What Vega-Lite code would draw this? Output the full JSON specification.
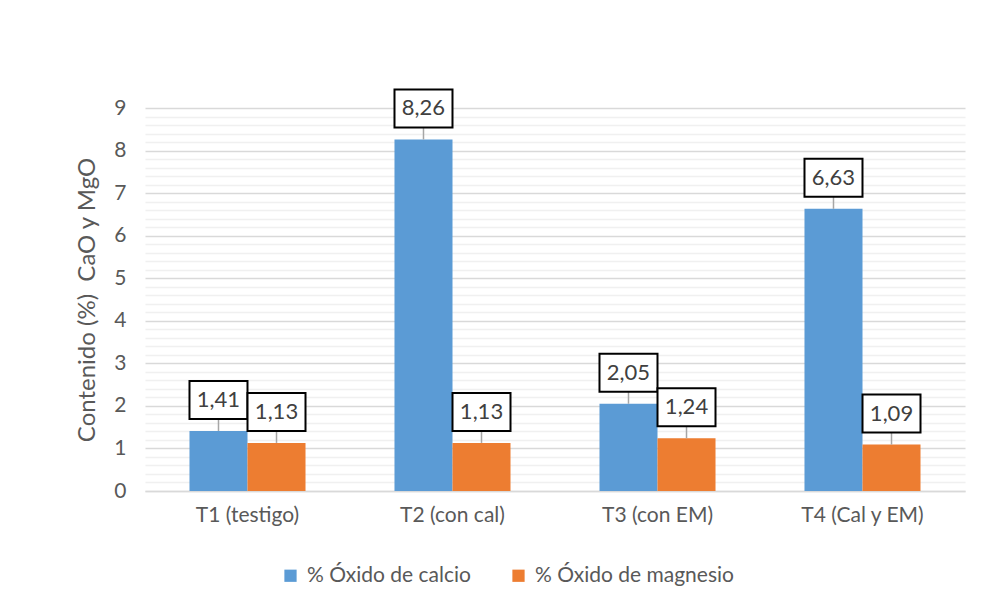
{
  "$schema": "https://vega.github.io/schema/vega-lite/v6.json",
  "width": 820,
  "height": 383,
  "autosize": "none",
  "padding": {"left": 145, "top": 108, "right": 16, "bottom": 116},
  "background": "white",
  "data": {
    "values": [
      {"tratamiento": "T1 (testigo)", "serie": "% Óxido de calcio", "valor": 1.41, "etiqueta": "1,41"},
      {"tratamiento": "T1 (testigo)", "serie": "% Óxido de magnesio", "valor": 1.13, "etiqueta": "1,13"},
      {"tratamiento": "T2 (con cal)", "serie": "% Óxido de calcio", "valor": 8.26, "etiqueta": "8,26"},
      {"tratamiento": "T2 (con cal)", "serie": "% Óxido de magnesio", "valor": 1.13, "etiqueta": "1,13"},
      {"tratamiento": "T3 (con EM)", "serie": "% Óxido de calcio", "valor": 2.05, "etiqueta": "2,05"},
      {"tratamiento": "T3 (con EM)", "serie": "% Óxido de magnesio", "valor": 1.24, "etiqueta": "1,24"},
      {"tratamiento": "T4 (Cal y EM)", "serie": "% Óxido de calcio", "valor": 6.63, "etiqueta": "6,63"},
      {"tratamiento": "T4 (Cal y EM)", "serie": "% Óxido de magnesio", "valor": 1.09, "etiqueta": "1,09"}
    ]
  },
  "encoding": {
    "x": {
      "field": "tratamiento",
      "type": "nominal",
      "sort": null,
      "scale": {"paddingInner": 0.434, "paddingOuter": 0.217},
      "axis": {
        "title": null,
        "labelAngle": 0,
        "ticks": false,
        "domain": true,
        "domainColor": "#d9d9d9",
        "domainWidth": 1.5,
        "labelFont": "Lato",
        "labelFontSize": 21,
        "labelColor": "#595959",
        "labelPadding": 13
      }
    },
    "xOffset": {
      "field": "serie",
      "type": "nominal",
      "sort": null,
      "scale": {"paddingInner": 0, "paddingOuter": 0}
    },
    "y": {
      "field": "valor",
      "type": "quantitative",
      "scale": {"domain": [0, 9], "nice": false, "zero": true},
      "axis": {
        "title": "Contenido (%)\u00a0 CaO y MgO",
        "titleFont": "Lato",
        "titleFontSize": 24,
        "titleFontWeight": "normal",
        "titleColor": "#595959",
        "titlePadding": 14,
        "values": [0, 0.2, 0.4, 0.6, 0.8, 1, 1.2, 1.4, 1.6, 1.8, 2, 2.2, 2.4, 2.6, 2.8, 3, 3.2, 3.4, 3.6, 3.8, 4, 4.2, 4.4, 4.6, 4.8, 5, 5.2, 5.4, 5.6, 5.8, 6, 6.2, 6.4, 6.6, 6.8, 7, 7.2, 7.4, 7.6, 7.8, 8, 8.2, 8.4, 8.6, 8.8, 9],
        "labelExpr": "abs(datum.value - round(datum.value)) < 0.01 ? format(datum.value, 'd') : ''",
        "grid": true,
        "gridColor": {"condition": {"test": "abs(datum.value - round(datum.value)) < 0.01", "value": "#d9d9d9"}, "value": "#f0f0f0"},
        "gridWidth": 1.5,
        "ticks": false,
        "domain": false,
        "labelFont": "Lato",
        "labelFontSize": 21,
        "labelColor": "#595959",
        "labelPadding": 19
      }
    }
  },
  "layer": [
    {
      "mark": {"type": "bar"},
      "encoding": {
        "color": {
          "field": "serie",
          "type": "nominal",
          "sort": null,
          "scale": {"domain": ["% Óxido de calcio", "% Óxido de magnesio"], "range": ["#5b9bd5", "#ed7d31"]},
          "legend": {
            "title": null,
            "orient": "none",
            "direction": "horizontal",
            "legendX": 135,
            "legendY": 457,
            "symbolType": "square",
            "symbolSize": 150,
            "symbolStrokeWidth": 0,
            "labelFont": "Lato",
            "labelFontSize": 21,
            "labelColor": "#595959",
            "labelOffset": 6,
            "columnPadding": 37,
            "padding": 0,
            "labelLimit": 400
          }
        }
      }
    },
    {
      "mark": {"type": "rule", "color": "#a6a6a6", "strokeWidth": 1.5, "yOffset": -13, "y2Offset": 0},
      "encoding": {
        "y2": {"field": "valor"}
      }
    },
    {
      "mark": {
        "type": "point",
        "shape": "M-1,-0.655L1,-0.655L1,0.655L-1,0.655Z",
        "size": 3364,
        "filled": true,
        "fill": "white",
        "stroke": "black",
        "strokeWidth": 2,
        "opacity": 1,
        "yOffset": -31
      }
    },
    {
      "mark": {
        "type": "text",
        "font": "Lato",
        "fontSize": 22,
        "color": "#404040",
        "baseline": "middle",
        "align": "center",
        "yOffset": -31
      },
      "encoding": {
        "text": {"field": "etiqueta", "type": "nominal"}
      }
    }
  ],
  "config": {
    "view": {"stroke": null}
  }
}
